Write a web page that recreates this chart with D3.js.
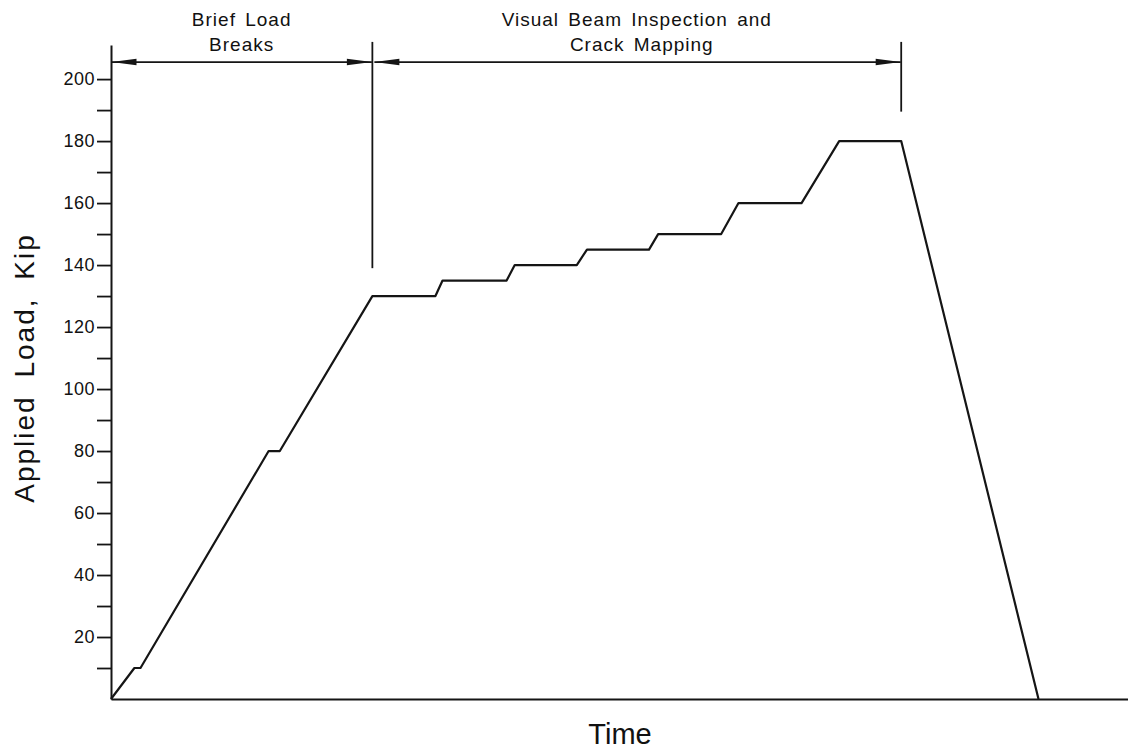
<!DOCTYPE html>
<html>
<head>
<meta charset="utf-8">
<script src="https://cdn.jsdelivr.net/npm/d3@7/dist/d3.min.js"></script>
<style>
  html, body { margin: 0; padding: 0; background: #fff; }
  svg { display: block; }
  text { font-family: "Liberation Sans", Arial, sans-serif; fill: #111; }
</style>
</head>
<body>
<svg id="chart" width="1128" height="751"></svg>
<script>
// Load history: elapsed time (arbitrary units) and applied load (kip)
const timeValues = [0, 2.3, 2.9, 15.5, 16.6, 25.7, 31.9, 32.6, 38.9, 39.7, 45.8, 46.8, 52.9, 53.8, 60.0, 61.7, 67.9, 71.6, 77.7, 91.2];
const loadValues = [0, 10, 10, 80, 80, 130, 130, 135, 135, 140, 140, 145, 145, 150, 150, 160, 160, 180, 180, 0];

// Y axis ticks
const majorTicks = [20, 40, 60, 80, 100, 120, 140, 160, 180, 200];
const minorTicks = [10, 30, 50, 70, 90, 110, 130, 150, 170, 190];

// Test phases shown as dimension spans above the plot
const phaseLabels = [["Brief Load", "Breaks"], ["Visual Beam Inspection and", "Crack Mapping"]];
const phaseStart = [0, 25.7];
const phaseEnd = [25.7, 77.7];
// lower end (kip) of the extension line at each phase boundary
const boundaryTimes = [25.7, 77.7];
const boundaryBottoms = [139, 189.5];

const svg = d3.select("#chart");
const ink = "#151515";

const x = d3.scaleLinear().domain([0, 100]).range([111, 1128]);
const y = d3.scaleLinear().domain([0, 211]).range([699, 45]);

// Y axis with labelled major ticks and unlabelled minor ticks
const yAxis = d3.axisLeft(y).tickValues(majorTicks).tickSize(14).tickPadding(2).tickSizeOuter(0);
const gy = svg.append("g").attr("transform", `translate(${x(0)},0)`).call(yAxis);
gy.select(".domain").attr("stroke", ink).attr("stroke-width", 2);
gy.selectAll(".tick line").attr("stroke", ink).attr("stroke-width", 1.8);
gy.selectAll(".tick text")
  .attr("font-size", 18).attr("letter-spacing", 0.5)
  .attr("font-family", "'Liberation Sans', Arial, sans-serif").attr("fill", ink);

const yMinor = d3.axisLeft(y).tickValues(minorTicks).tickSize(14).tickFormat("").tickSizeOuter(0);
const gym = svg.append("g").attr("transform", `translate(${x(0)},0)`).call(yMinor);
gym.select(".domain").remove();
gym.selectAll(".tick line").attr("stroke", ink).attr("stroke-width", 1.8);

// X axis (time, no ticks)
const xAxis = d3.axisBottom(x).tickValues([]).tickSizeOuter(0);
const gx = svg.append("g").attr("transform", `translate(0,${y(0)})`).call(xAxis);
gx.select(".domain").attr("stroke", ink).attr("stroke-width", 2);

// Load curve
const points = timeValues.map((t, i) => [t, loadValues[i]]);
const line = d3.line().x(d => x(d[0])).y(d => y(d[1]));
svg.append("path")
  .datum(points)
  .attr("d", line)
  .attr("fill", "none")
  .attr("stroke", ink)
  .attr("stroke-width", 2.2)
  .attr("stroke-linejoin", "round");

// Extension lines at phase boundaries
svg.selectAll("line.ext")
  .data(boundaryTimes)
  .join("line")
  .attr("class", "ext")
  .attr("x1", d => x(d)).attr("x2", d => x(d))
  .attr("y1", y(212))
  .attr("y2", (d, i) => y(boundaryBottoms[i]))
  .attr("stroke", ink).attr("stroke-width", 1.8);

// Dimension lines with filled arrowheads
const dimLoad = 205.5;
const arrowLen = 25, arrowHalf = 3.3;
const dims = svg.append("g");
phaseStart.forEach((s, i) => {
  const xa = x(s) + (i > 0 ? 2 : 0.5);
  const xb = x(phaseEnd[i]) - 0.5;
  const yy = y(dimLoad);
  dims.append("line")
    .attr("x1", xa).attr("x2", xb).attr("y1", yy).attr("y2", yy)
    .attr("stroke", ink).attr("stroke-width", 1.8);
  dims.append("path")
    .attr("d", `M${xa},${yy}L${xa + arrowLen},${yy - arrowHalf}L${xa + arrowLen},${yy + arrowHalf}Z`)
    .attr("fill", ink);
  dims.append("path")
    .attr("d", `M${xb},${yy}L${xb - arrowLen},${yy - arrowHalf}L${xb - arrowLen},${yy + arrowHalf}Z`)
    .attr("fill", ink);
  const cx = (x(s) + x(phaseEnd[i])) / 2;
  phaseLabels[i].forEach((txt, j) => {
    dims.append("text")
      .attr("x", cx + (i === 1 && j === 1 ? 5 : 0))
      .attr("y", 26 + j * 25)
      .attr("text-anchor", "middle")
      .attr("font-size", 19)
      .attr("letter-spacing", 1)
      .attr("word-spacing", 3)
      .text(txt);
  });
});

// Axis titles
svg.append("text")
  .attr("transform", `translate(34,${(233 + 503) / 2}) rotate(-90)`)
  .attr("text-anchor", "middle")
  .attr("font-size", 28)
  .attr("letter-spacing", 2)
  .attr("word-spacing", 8)
  .text("Applied Load, Kip");

svg.append("text")
  .attr("x", 620)
  .attr("y", 744)
  .attr("text-anchor", "middle")
  .attr("font-size", 29)
  .text("Time");
</script>
</body>
</html>
